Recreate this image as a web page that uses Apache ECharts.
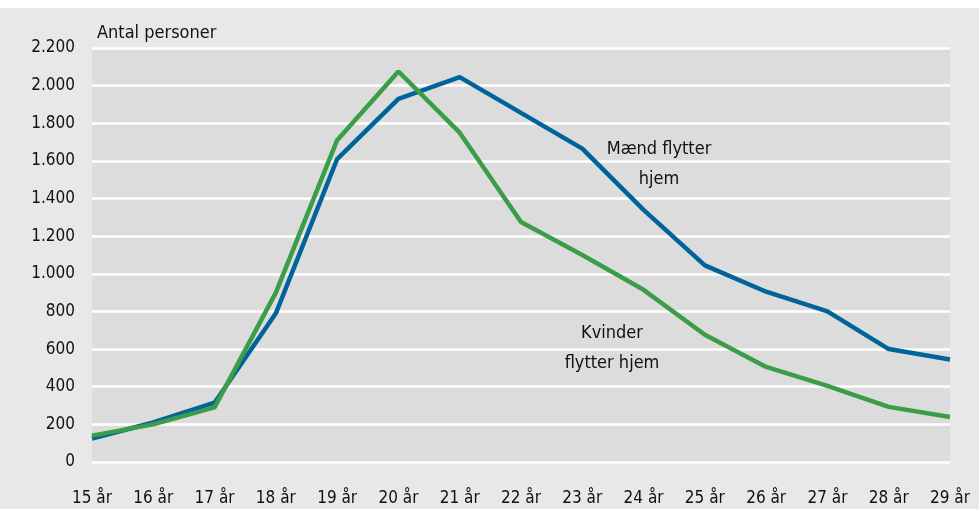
<!DOCTYPE html>
<html><head><meta charset="utf-8">
<script src="https://cdn.jsdelivr.net/npm/echarts@6/dist/echarts.min.js"></script>
<style>html,body{margin:0;padding:0;background:#fff}#c{width:979px;height:509px}</style>
</head><body><div id="c"></div>
<script>
const categories = ['15 år','16 år','17 år','18 år','19 år','20 år','21 år','22 år','23 år','24 år','25 år','26 år','27 år','28 år','29 år'];
const maend = [125, 210, 315, 790, 1610, 1930, 2045, 1855, 1665, 1340, 1045, 905, 800, 600, 545];
const kvinder = [140, 200, 290, 900, 1710, 2075, 1750, 1275, 1100, 915, 676, 505, 404, 293, 239];
const yTicks = [0, 200, 400, 600, 800, 1000, 1200, 1400, 1600, 1800, 2000, 2200];
const yAxisName = 'Antal personer';
const labelMaend = ['Mænd flytter', 'hjem'];
const labelKvinder = ['Kvinder', 'flytter hjem'];

const FONT = '"DejaVu Sans Condensed", "Liberation Sans Narrow", sans-serif';
const fmt = v => String(v).replace(/\B(?=(\d{3})+(?!\d))/g, '.');

const chart = echarts.init(document.getElementById('c'), null, {renderer: 'canvas'});
chart.setOption({
  animation: false,
  backgroundColor: '#ffffff',
  graphic: [
    {type: 'rect', z: -10, shape: {x: 0, y: 8, width: 979, height: 501}, style: {fill: '#e8e8e8'}},
    {type: 'text', z: 100, x: 97, y: 33, style: {text: yAxisName, font: '18px ' + FONT, fill: '#111', verticalAlign: 'middle'}},
    {type: 'text', z: 100, x: 659, y: 164, style: {text: labelMaend.join('\n'), font: '18px ' + FONT, fill: '#111', align: 'center', verticalAlign: 'middle', lineHeight: 30}},
    {type: 'text', z: 100, x: 612, y: 348, style: {text: labelKvinder.join('\n'), font: '18px ' + FONT, fill: '#111', align: 'center', verticalAlign: 'middle', lineHeight: 30}}
  ],
  grid: {left: 92, right: 29, top: 48, bottom: 47, show: true, backgroundColor: '#dcdcdc', borderWidth: 0},
  xAxis: {
    type: 'category', data: categories, boundaryGap: false,
    axisLine: {show: false}, axisTick: {show: false},
    axisLabel: {fontFamily: FONT, fontSize: 17, color: '#111', margin: 28, interval: 0}
  },
  yAxis: {
    type: 'value', min: yTicks[0], max: yTicks[yTicks.length - 1], interval: 200,
    axisLine: {show: false}, axisTick: {show: false},
    splitLine: {lineStyle: {color: '#ffffff', width: 2.5}},
    axisLabel: {fontFamily: FONT, fontSize: 17, color: '#111', margin: 17, formatter: fmt}
  },
  series: [
    {name: 'Mænd flytter hjem', type: 'line', data: maend, symbol: 'none', lineStyle: {color: '#00649a', width: 4.5}, z: 3},
    {name: 'Kvinder flytter hjem', type: 'line', data: kvinder, symbol: 'none', lineStyle: {color: '#3c9d48', width: 4.5}, z: 4}
  ]
});
</script></body></html>
